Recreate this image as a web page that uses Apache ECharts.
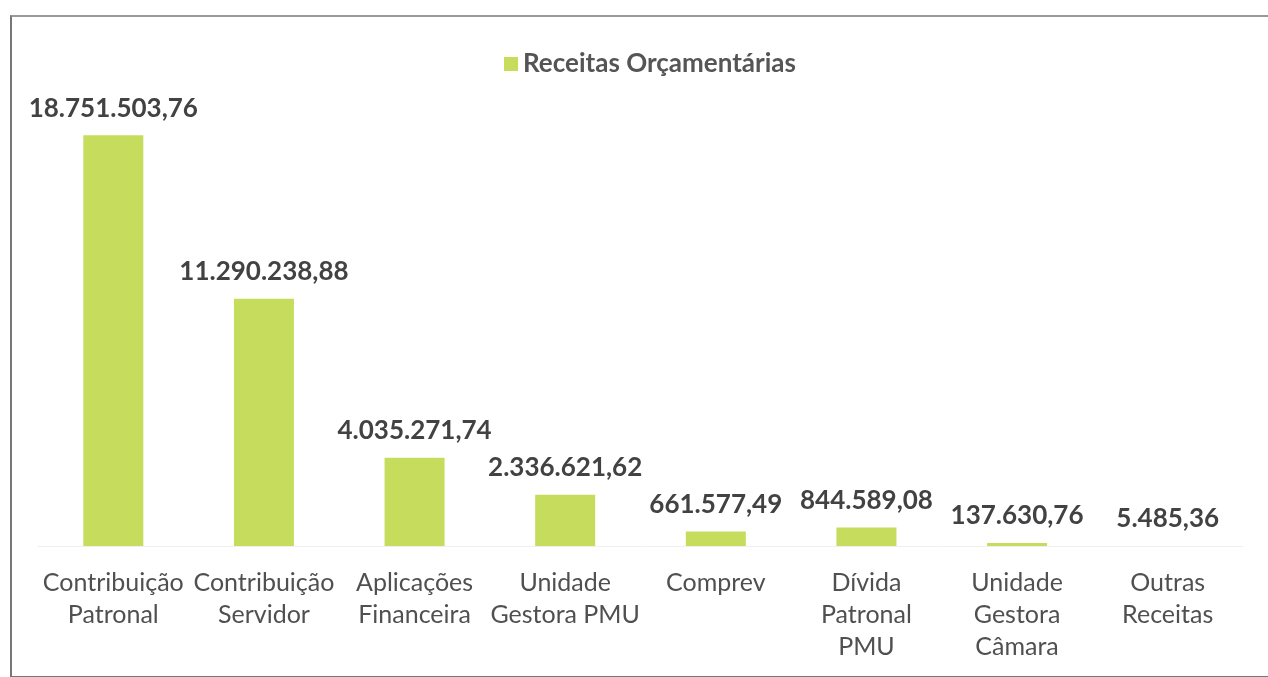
<!DOCTYPE html>
<html>
<head>
<meta charset="utf-8">
<script src="https://cdn.jsdelivr.net/npm/echarts@6/dist/echarts.min.js"></script>
<style>
  html, body { margin: 0; padding: 0; background: #fff; }
  #frame { position: absolute; left: 10px; top: 15px; width: 1270px; height: 659px;
           border-left: 2px solid #777; border-top: 2px solid #999; border-bottom: 2px solid #777; }
  #main { position: absolute; left: 0; top: 0; width: 1268px; height: 677px; }
</style>
</head>
<body>
<div id="frame"></div>
<div id="main"></div>
<script>
// categorias (quebras de linha como no original)
var categories = [
  'Contribuição\nPatronal',
  'Contribuição\nServidor',
  'Aplicações\nFinanceira',
  'Unidade\nGestora PMU',
  'Comprev',
  'Dívida\nPatronal\nPMU',
  'Unidade\nGestora\nCâmara',
  'Outras\nReceitas'
];
// valores das receitas
var receitas = [18751503.76, 11290238.88, 4035271.74, 2336621.62, 661577.49, 844589.08, 137630.76, 5485.36];
var seriesName = 'Receitas Orçamentárias';

// formato pt-BR: 1.234.567,89
function fmt(v) {
  var parts = v.toFixed(2).split('.');
  var inteiro = parts[0].replace(/\B(?=(\d{3})+(?!\d))/g, '.');
  return inteiro + ',' + parts[1];
}

var myChart = echarts.init(document.getElementById('main'));
var option = {
  backgroundColor: 'transparent',
  animation: false,
  legend: {
    top: 46,
    left: 499,
    itemWidth: 14,
    itemHeight: 14,
    itemGap: 10,
    icon: 'rect',
    textStyle: { color: '#555', fontSize: 26, fontWeight: 'bold', fontFamily: 'Lato' },
    data: [seriesName]
  },
  grid: { left: 38, right: 25, top: 108, bottom: 131 },
  xAxis: {
    type: 'category',
    data: categories,
    axisLine: { lineStyle: { color: '#f0f0f0', width: 1 } },
    axisTick: { show: false },
    axisLabel: {
      color: '#505050',
      fontSize: 25,
      fontFamily: 'Lato',
      lineHeight: 32,
      margin: 21,
      interval: 0
    }
  },
  yAxis: {
    type: 'value',
    min: 0,
    max: 20000000,
    show: false,
    splitLine: { show: false }
  },
  series: [{
    name: seriesName,
    type: 'bar',
    data: receitas,
    barWidth: 60,
    itemStyle: { color: '#c5dc5c' },
    label: {
      show: true,
      position: 'top',
      distance: 14,
      color: '#424242',
      fontSize: 26,
      fontWeight: 'bold',
      fontFamily: 'Lato',
      formatter: function (p) { return fmt(p.value); }
    }
  }]
};
myChart.setOption(option);
</script>
</body>
</html>
